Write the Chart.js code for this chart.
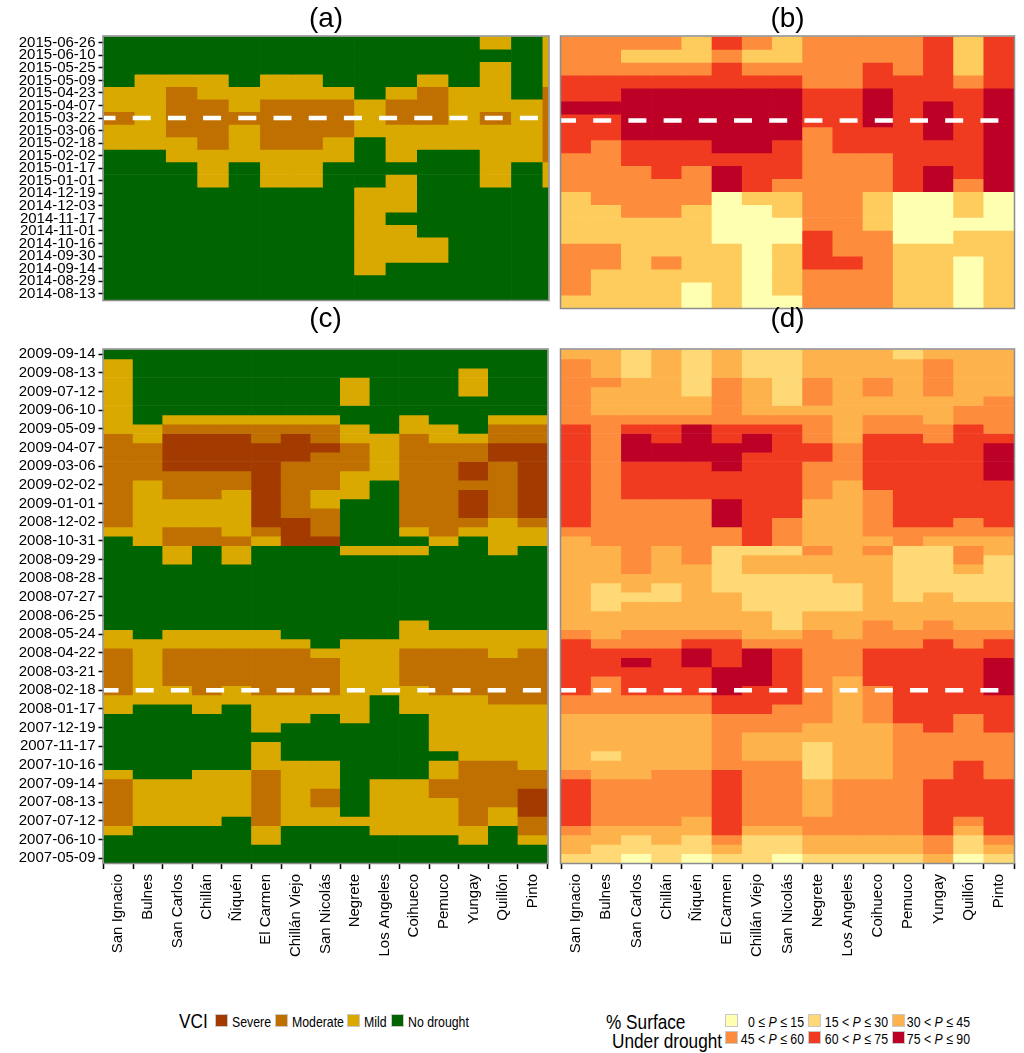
<!DOCTYPE html>
<html>
<head>
<meta charset="utf-8">
<title>VCI y superficie bajo sequía</title>
<script src="https://cdn.jsdelivr.net/npm/chart.js@4.4.1/dist/chart.umd.min.js"></script>
<style>
  body { margin: 0; background: #fff; }
  #page { position: relative; width: 1024px; height: 1053px; overflow: hidden; }
  .panel { position: absolute; }
  /* texto angosto: no hay fuente "narrow" instalada, se comprime la Liberation Sans */
  .lg { position: absolute; color: #000; white-space: nowrap; line-height: 1;
        font-family: "Liberation Sans", Arial, sans-serif;
        transform: scaleX(0.82); transform-origin: left center; }
  .sw { position: absolute; width: 13px; height: 13px; box-sizing: border-box; border: 1px solid #c8c8c8; }
</style>
</head>
<body>
<div id="page">
  <div class="panel" style="left:0;top:0;width:556px;height:312px"><canvas id="pa"></canvas></div>
  <div class="panel" style="left:556px;top:0;width:468px;height:312px"><canvas id="pb"></canvas></div>
  <div class="panel" style="left:0;top:290px;width:556px;height:712px"><canvas id="pc"></canvas></div>
  <div class="panel" style="left:556px;top:290px;width:468px;height:712px"><canvas id="pd"></canvas></div>
  <div id="legends"></div>
</div>
<script>
//comunas (columnas)
const communes = ["San Ignacio", "Bulnes", "San Carlos", "Chillán", "Ñiquén", "El Carmen", "Chillán Viejo",
  "San Nicolás", "Negrete", "Los Angeles", "Coihueco", "Pemuco", "Yungay", "Quillón", "Pinto"];

//fechas de las imágenes (filas, de la más antigua a la más reciente)
const datesRecent = ["2014-08-13", "2014-08-29", "2014-09-14", "2014-09-30", "2014-10-16", "2014-11-01",
  "2014-11-17", "2014-12-03", "2014-12-19", "2015-01-01", "2015-01-17", "2015-02-02", "2015-02-18",
  "2015-03-06", "2015-03-22", "2015-04-07", "2015-04-23", "2015-05-09", "2015-05-25", "2015-06-10", "2015-06-26"];
const dates0709 = ["2007-05-09", "2007-05-25", "2007-06-10", "2007-06-26", "2007-07-12", "2007-07-28",
  "2007-08-13", "2007-08-29", "2007-09-14", "2007-09-30", "2007-10-16", "2007-11-01", "2007-11-17",
  "2007-12-03", "2007-12-19", "2008-01-01", "2008-01-17", "2008-02-02", "2008-02-18", "2008-03-05",
  "2008-03-21", "2008-04-06", "2008-04-22", "2008-05-08", "2008-05-24", "2008-06-09", "2008-06-25",
  "2008-07-11", "2008-07-27", "2008-08-12", "2008-08-28", "2008-09-13", "2008-09-29", "2008-10-15",
  "2008-10-31", "2008-11-16", "2008-12-02", "2008-12-18", "2009-01-01", "2009-01-17", "2009-02-02",
  "2009-02-18", "2009-03-06", "2009-03-22", "2009-04-07", "2009-04-23", "2009-05-09", "2009-05-25",
  "2009-06-10", "2009-06-26", "2009-07-12", "2009-07-28", "2009-08-13", "2009-08-29", "2009-09-14"];
const labelStep0709 = 2;

//fechas marcadas con la línea blanca
const markRecent = "2015-03-22";
const mark0709 = "2008-02-18";

//clases de la leyenda
const vciLevels = ["No drought", "Mild", "Moderate", "Severe"];
const surfLevels = ["0 ≤ <i>P</i> ≤ 15", "15 &lt; <i>P</i> ≤ 30", "30 &lt; <i>P</i> ≤ 45",
  "45 &lt; <i>P</i> ≤ 60", "60 &lt; <i>P</i> ≤ 75", "75 &lt; <i>P</i> ≤ 90"];

//VCI: 0 sin sequía, 1 leve, 2 moderada, 3 severa (una fila por fecha)
const vciRecent = [
  [0,0,0,0,0,0,0,0,0,0,0,0,0,0,0],
  [0,0,0,0,0,0,0,0,0,0,0,0,0,0,0],
  [0,0,0,0,0,0,0,0,1,0,0,0,0,0,0],
  [0,0,0,0,0,0,0,0,1,1,1,0,0,0,0],
  [0,0,0,0,0,0,0,0,1,1,1,0,0,0,0],
  [0,0,0,0,0,0,0,0,1,1,0,0,0,0,0],
  [0,0,0,0,0,0,0,0,1,0,0,0,0,0,0],
  [0,0,0,0,0,0,0,0,1,1,0,0,0,0,0],
  [0,0,0,0,0,0,0,0,1,1,0,0,0,0,0],
  [0,0,0,1,0,1,1,0,0,1,0,0,1,0,1],
  [0,0,0,1,0,1,1,0,0,0,0,0,1,0,1],
  [0,0,1,1,1,1,1,1,0,1,0,0,1,1,2],
  [1,1,1,2,1,2,2,1,0,1,1,1,1,1,2],
  [1,1,2,2,1,2,2,2,1,1,1,1,1,1,2],
  [2,1,2,2,2,2,2,2,1,2,2,1,2,1,2],
  [1,1,2,2,1,2,2,2,1,2,2,1,1,1,2],
  [1,1,2,1,1,1,1,1,0,1,2,1,1,0,2],
  [0,1,1,1,0,1,1,0,0,0,1,0,1,0,1],
  [0,0,0,0,0,0,0,0,0,0,0,0,1,0,1],
  [0,0,0,0,0,0,0,0,0,0,0,0,0,0,1],
  [0,0,0,0,0,0,0,0,0,0,0,0,1,0,1]
];

//% superficie bajo sequía: 0 (0-15) ... 5 (75-90)
const surfRecent = [
  [1,1,1,1,0,1,0,0,3,3,3,1,1,0,1],
  [3,1,1,1,0,1,0,1,3,3,3,1,1,0,1],
  [3,1,1,1,1,1,0,1,3,3,3,1,1,0,1],
  [3,3,1,3,1,1,0,1,4,4,3,1,1,0,1],
  [3,3,1,1,1,1,0,1,4,3,3,1,1,1,1],
  [1,1,1,1,1,0,0,0,4,3,3,0,0,1,1],
  [1,1,1,1,1,0,0,0,3,3,1,0,0,0,0],
  [1,1,3,3,1,0,0,1,3,3,1,0,0,1,0],
  [1,3,3,3,3,0,1,1,3,3,1,0,0,1,0],
  [3,3,3,3,3,5,4,3,3,3,3,4,5,3,5],
  [3,3,3,4,3,5,4,4,3,3,3,4,5,4,5],
  [3,3,4,4,4,4,4,4,3,3,3,4,4,4,5],
  [4,3,4,4,4,5,5,4,3,4,4,4,4,4,5],
  [4,4,5,5,5,5,5,5,3,4,4,4,5,4,5],
  [4,4,5,5,5,5,5,5,4,4,5,4,5,4,5],
  [5,5,5,5,5,5,5,5,4,4,5,4,5,4,5],
  [4,4,5,5,5,5,5,5,4,4,5,4,4,4,5],
  [4,4,4,4,4,4,4,4,3,3,4,4,4,3,4],
  [3,3,3,3,3,4,3,3,3,3,4,3,4,1,4],
  [3,3,1,1,1,3,1,1,3,3,3,3,4,1,4],
  [3,3,3,3,1,4,3,1,3,3,3,3,4,1,4]
];

const vci0709 = [
  [0,0,0,0,0,0,0,0,0,0,0,0,0,0,0],
  [0,0,0,0,0,0,0,0,0,0,0,0,0,0,0],
  [0,0,0,0,0,1,0,0,0,0,0,0,1,0,1],
  [1,0,0,0,0,1,0,0,0,1,1,1,1,0,2],
  [2,1,1,1,0,2,1,1,1,1,1,1,2,1,2],
  [2,1,1,1,1,2,1,1,0,1,1,1,2,1,3],
  [2,1,1,1,1,2,1,2,0,1,1,1,2,2,3],
  [2,1,1,1,1,2,1,2,0,1,1,2,2,2,3],
  [2,1,1,1,1,2,1,1,0,1,1,2,2,2,2],
  [1,0,0,1,1,2,1,1,0,0,0,1,2,2,2],
  [0,0,0,0,0,1,1,1,0,0,0,1,2,2,1],
  [0,0,0,0,0,1,0,0,0,0,0,0,1,1,1],
  [0,0,0,0,0,1,0,0,0,0,0,1,1,1,1],
  [0,0,0,0,0,0,0,0,0,0,0,1,1,1,1],
  [0,0,0,0,0,1,0,0,0,0,0,1,1,1,1],
  [0,0,0,0,0,1,1,0,1,0,0,1,1,1,1],
  [1,0,0,1,0,1,1,1,1,0,1,1,1,1,1],
  [1,1,1,1,1,1,1,1,1,0,1,1,1,2,2],
  [2,1,1,2,1,2,2,2,1,1,1,2,2,2,2],
  [2,1,2,2,2,2,2,2,1,1,2,2,2,2,2],
  [2,1,2,2,2,2,2,2,1,1,2,2,2,2,2],
  [2,1,2,2,2,2,2,2,1,1,2,2,2,2,2],
  [2,1,2,2,2,2,2,1,1,1,2,2,2,1,2],
  [1,1,1,1,1,1,1,0,1,1,1,1,1,1,1],
  [1,0,1,1,1,1,0,0,0,0,1,1,1,1,1],
  [0,0,0,0,0,0,0,0,0,0,1,0,0,0,0],
  [0,0,0,0,0,0,0,0,0,0,0,0,0,0,0],
  [0,0,0,0,0,0,0,0,0,0,0,0,0,0,0],
  [0,0,0,0,0,0,0,0,0,0,0,0,0,0,0],
  [0,0,0,0,0,0,0,0,0,0,0,0,0,0,0],
  [0,0,0,0,0,0,0,0,0,0,0,0,0,0,0],
  [0,0,0,0,0,0,0,0,0,0,0,0,0,0,0],
  [0,0,1,0,1,0,0,0,0,0,0,0,0,0,0],
  [0,0,1,0,1,0,0,0,1,1,1,0,0,1,0],
  [0,1,2,2,2,1,3,3,0,0,0,1,0,1,1],
  [1,1,2,2,1,2,3,2,0,0,1,2,1,1,1],
  [2,1,1,1,1,3,3,2,0,0,2,2,2,1,2],
  [2,1,1,1,1,3,2,2,0,0,2,2,3,2,3],
  [2,1,1,1,1,3,2,1,0,0,2,2,3,2,3],
  [2,1,2,2,1,3,2,1,1,0,2,2,3,2,3],
  [2,1,2,2,2,3,2,2,1,0,2,2,2,2,3],
  [2,2,2,2,2,3,2,2,1,1,2,2,3,2,3],
  [2,2,3,3,3,3,2,2,2,1,2,2,3,2,3],
  [2,2,3,3,3,3,3,2,2,1,2,2,2,3,3],
  [2,2,3,3,3,3,3,3,2,1,2,2,2,3,3],
  [2,1,3,3,3,2,3,2,1,1,2,1,1,2,2],
  [1,1,2,2,2,2,2,2,1,0,1,1,0,2,2],
  [1,0,1,1,1,1,1,1,0,0,1,0,0,1,1],
  [1,0,0,0,0,0,0,0,0,0,0,0,0,0,0],
  [1,0,0,0,0,0,0,0,1,0,0,0,0,0,0],
  [1,0,0,0,0,0,0,0,1,0,0,0,1,0,0],
  [1,0,0,0,0,0,0,0,1,0,0,0,1,0,0],
  [1,0,0,0,0,0,0,0,0,0,0,0,1,0,0],
  [1,0,0,0,0,0,0,0,0,0,0,0,0,0,0],
  [0,0,0,0,0,0,0,0,0,0,0,0,0,0,0]
];

const surf0709 = [
  [1,1,0,1,0,1,1,0,1,1,1,1,2,0,1],
  [2,1,1,1,1,2,1,1,2,2,2,2,3,1,2],
  [2,2,1,2,1,3,1,1,2,2,2,2,3,1,3],
  [3,2,2,2,2,4,2,2,3,3,3,3,4,2,4],
  [4,3,3,3,2,4,3,3,3,3,3,3,4,3,4],
  [4,3,3,3,3,4,3,3,2,3,3,3,4,4,4],
  [4,3,3,3,3,4,3,3,2,3,3,3,4,4,4],
  [4,3,3,3,3,4,3,3,2,3,3,3,4,4,4],
  [4,3,3,3,3,4,3,3,2,3,3,3,4,4,4],
  [3,2,2,3,3,4,3,3,1,2,2,3,3,4,3],
  [2,2,2,2,2,3,3,3,1,2,2,3,3,4,3],
  [2,1,2,2,2,3,2,2,1,2,2,3,3,3,3],
  [2,2,2,2,2,3,2,2,1,2,2,3,3,3,3],
  [2,2,2,2,2,3,2,2,2,2,2,3,3,3,3],
  [2,2,2,2,2,3,3,3,2,2,2,3,4,3,4],
  [2,2,2,2,2,3,3,3,3,2,3,4,4,3,4],
  [3,3,3,3,3,4,4,3,3,2,3,4,4,4,4],
  [3,3,3,3,3,4,4,4,3,2,3,4,4,4,4],
  [4,3,4,4,4,5,4,4,3,2,3,4,4,4,5],
  [4,3,4,4,4,5,5,4,3,2,4,4,4,4,5],
  [4,4,4,4,4,5,5,4,3,3,4,4,4,4,5],
  [4,4,5,4,5,4,5,4,3,3,4,4,4,4,5],
  [4,4,4,4,5,4,5,4,3,3,4,4,4,4,4],
  [4,3,3,3,4,4,3,3,3,3,3,3,4,3,4],
  [3,2,3,3,3,3,2,2,3,2,3,3,3,3,3],
  [2,2,2,2,2,2,2,1,2,2,3,2,3,2,2],
  [2,2,2,2,2,2,2,1,2,2,2,2,2,2,2],
  [2,1,2,2,2,2,1,1,1,1,2,2,2,2,2],
  [2,1,1,1,2,2,1,1,1,1,2,1,2,1,1],
  [2,1,2,1,2,1,1,1,1,1,2,1,1,1,1],
  [2,2,2,2,2,1,1,1,1,2,2,1,1,1,1],
  [2,2,3,2,2,1,2,2,2,2,2,1,1,2,1],
  [2,2,3,2,3,1,2,2,2,2,2,1,1,3,1],
  [2,2,3,2,3,1,1,1,3,2,3,1,1,3,2],
  [2,3,3,3,3,3,4,3,2,2,2,3,2,2,2],
  [3,3,3,3,3,3,4,3,2,2,3,3,3,3,3],
  [4,3,3,3,3,5,4,3,2,2,3,4,4,3,4],
  [4,3,3,3,3,5,4,4,2,2,3,4,4,4,4],
  [4,3,3,3,3,5,4,4,2,2,3,4,4,4,4],
  [4,3,4,4,4,4,4,4,3,2,3,4,4,4,4],
  [4,3,4,4,4,4,4,4,3,2,4,4,4,4,4],
  [4,3,4,4,4,4,4,4,3,3,4,4,4,4,5],
  [4,3,4,4,4,5,4,4,3,3,4,4,4,4,5],
  [4,3,5,5,5,5,4,4,4,3,4,4,4,4,5],
  [4,3,5,5,5,5,5,4,4,3,4,4,4,4,5],
  [4,3,5,4,5,4,5,4,3,2,4,4,3,4,4],
  [4,3,4,4,5,4,4,4,3,2,3,3,3,4,3],
  [3,3,3,3,3,3,3,3,3,2,3,3,2,3,3],
  [3,2,2,2,2,3,2,2,2,2,2,2,2,3,3],
  [3,2,2,2,2,3,2,1,3,2,2,2,2,2,3],
  [3,2,2,2,1,3,2,1,3,2,3,2,3,2,2],
  [3,3,2,2,1,3,2,1,3,2,3,2,3,2,2],
  [3,2,1,2,1,2,1,1,2,2,2,2,3,2,2],
  [3,2,1,2,1,2,1,1,2,2,2,2,3,2,2],
  [2,2,1,2,1,2,1,1,2,2,2,1,2,2,2]
];

//colores
const vciColors = ["#006400", "#D9A900", "#C07000", "#A33A00"];
const surfColors = ["#FFFFB2", "#FED976", "#FEB24C", "#FD8D3C", "#F03B20", "#BD0026"];
//el panel (b) no tiene las seis clases y usa la escala de cinco colores
const surfColorsB = ["#FFFFB2", "#FECC5C", "#FEB24C", "#FD8D3C", "#F03B20", "#BD0026"];

const tickFont = { family: '"Liberation Sans", Arial, sans-serif', size: 15 };

//letra del panel centrada sobre el área del gráfico
const panelLetter = {
  id: "panelLetter",
  afterDraw(chart, args, opts) {
    const { ctx, chartArea } = chart;
    ctx.save();
    ctx.font = '28px "Liberation Sans", Arial, sans-serif';
    ctx.fillStyle = "#000";
    ctx.textAlign = "center";
    ctx.textBaseline = "middle";
    ctx.fillText(opts.text, (chartArea.left + chartArea.right) / 2, opts.y);
    ctx.restore();
  }
};

//línea blanca discontinua y marco gris
const markRow = {
  id: "markRow",
  afterDatasetsDraw(chart, args, opts) {
    const { ctx, chartArea: a, scales } = chart;
    const y = scales.y.getPixelForValue(opts.row + 0.5);
    ctx.save();
    ctx.beginPath();
    ctx.rect(a.left, a.top, a.right - a.left, a.bottom - a.top);
    ctx.clip();
    ctx.strokeStyle = "#fff";
    ctx.lineWidth = 4.5;
    ctx.setLineDash([18, 17.2]);
    ctx.lineDashOffset = opts.offset;
    ctx.beginPath();
    ctx.moveTo(a.left, y);
    ctx.lineTo(a.right, y);
    ctx.stroke();
    ctx.restore();
    ctx.save();
    ctx.strokeStyle = "#8c8c8c";
    ctx.lineWidth = 1.5;
    ctx.strokeRect(a.left - 0.5, a.top - 0.5, a.right - a.left + 1, a.bottom - a.top + 1);
    ctx.restore();
  }
};

function makePanel(id, grid, dates, colors, opt) {
  let points = [];
  grid.forEach((row, r) => {
    row.forEach((v, c) => points.push({ x: c, y: [r, r + 1], v: v }));
  });

  let xScale = {
    type: "linear",
    min: -0.5,
    max: opt.xMax,
    offset: false,
    display: opt.showX,
    afterBuildTicks: (s) => { s.ticks = communes.map((_, i) => ({ value: i })); },
    grid: { drawOnChartArea: false, tickLength: 6, tickColor: "#000", tickWidth: 1.5 },
    border: { display: false },
    ticks: {
      autoSkip: false, minRotation: 90, maxRotation: 90, padding: 5, color: "#000", font: tickFont,
      callback: (v) => communes[v]
    }
  };
  if (opt.showX) xScale.afterFit = (s) => { s.height = 139; };

  let yScale = {
    type: "linear",
    min: 0,
    max: dates.length,
    display: opt.showY,
    afterBuildTicks: (s) => {
      s.ticks = dates.map((d, i) => ({ value: i + 0.5 })).filter((t, i) => i % opt.step === 0);
    },
    grid: { drawOnChartArea: false, tickLength: 5, tickColor: "#000", tickWidth: 1.5 },
    border: { display: false },
    ticks: { autoSkip: false, padding: 3, color: "#000", font: tickFont, callback: (v) => dates[Math.floor(v)] }
  };
  if (opt.showY) yScale.afterFit = (s) => { s.width = 103.5; };

  new Chart(document.getElementById(id), {
    type: "bar",
    data: {
      datasets: [{
        data: points,
        backgroundColor: (ctx) => (ctx.raw ? colors[ctx.raw.v] : colors[0]),
        borderWidth: 0,
        barPercentage: 1,
        categoryPercentage: 1,
        clip: 0
      }]
    },
    options: {
      responsive: true,
      maintainAspectRatio: false,
      animation: false,
      events: [],
      layout: { padding: opt.padding },
      plugins: {
        legend: { display: false },
        tooltip: { enabled: false },
        panelLetter: { text: opt.letter, y: opt.letterY },
        markRow: { row: dates.indexOf(opt.mark), offset: opt.dashOffset }
      },
      scales: { x: xScale, y: yScale }
    },
    plugins: [panelLetter, markRow]
  });
}

makePanel("pa", vciRecent, datesRecent, vciColors, {
  letter: "(a)", letterY: 19, mark: markRecent, dashOffset: 6, xMax: 13.68, step: 1,
  showX: false, showY: true, padding: { left: 0, top: 36.5, right: 7.5, bottom: 4 }
});
makePanel("pb", surfRecent, datesRecent, surfColorsB, {
  letter: "(b)", letterY: 19, mark: markRecent, dashOffset: 3, xMax: 14.5, step: 1,
  showX: false, showY: false, padding: { left: 5, top: 36.5, right: 10, bottom: 4 }
});
makePanel("pc", vci0709, dates0709, vciColors, {
  letter: "(c)", letterY: 29, mark: mark0709, dashOffset: 3, xMax: 14.5, step: labelStep0709,
  showX: true, showY: true, padding: { left: 0, top: 59.5, right: 7.5, bottom: 0 }
});
makePanel("pd", surf0709, dates0709, surfColors, {
  letter: "(d)", letterY: 29, mark: mark0709, dashOffset: 3, xMax: 14.5, step: labelStep0709,
  showX: true, showY: false, padding: { left: 5, top: 59.5, right: 10, bottom: 0 }
});

//leyendas
const $legends = document.getElementById("legends");
function addText(html, left, top, size, extra) {
  const el = document.createElement("div");
  el.className = "lg";
  el.innerHTML = html;
  el.style.left = left + "px";
  el.style.top = top + "px";
  el.style.fontSize = size + "px";
  if (extra) Object.assign(el.style, extra);
  $legends.appendChild(el);
  return el;
}
function addSwatch(color, left, top) {
  const el = document.createElement("div");
  el.className = "sw";
  el.style.left = left + "px";
  el.style.top = top + "px";
  el.style.background = color;
  $legends.appendChild(el);
}

//VCI
addText("VCI", 179, 1010, 21);
const vciSwatchLeft = [215, 275, 347, 391];
[3, 2, 1, 0].forEach((k, i) => {
  addSwatch(vciColors[k], vciSwatchLeft[i], 1014);
  addText(vciLevels[k], vciSwatchLeft[i] + 17, 1013.5, 15);
});

//% superficie
addText("% Surface", 606, 1011, 21);
addText("Under drought", 612, 1030, 21);
const surfSwatchLeft = [725, 808, 892];
const surfLabelRight = [804, 888, 970];
surfLevels.forEach((lab, k) => {
  const col = k % 3, row = Math.floor(k / 3);
  const top = 1014 + row * 17;
  addSwatch(surfColors[k], surfSwatchLeft[col], top);
  addText(lab, surfLabelRight[col] - 80, top - 0.5, 15,
    { width: "80px", textAlign: "right", transformOrigin: "right center" });
});
</script>
</body>
</html>
